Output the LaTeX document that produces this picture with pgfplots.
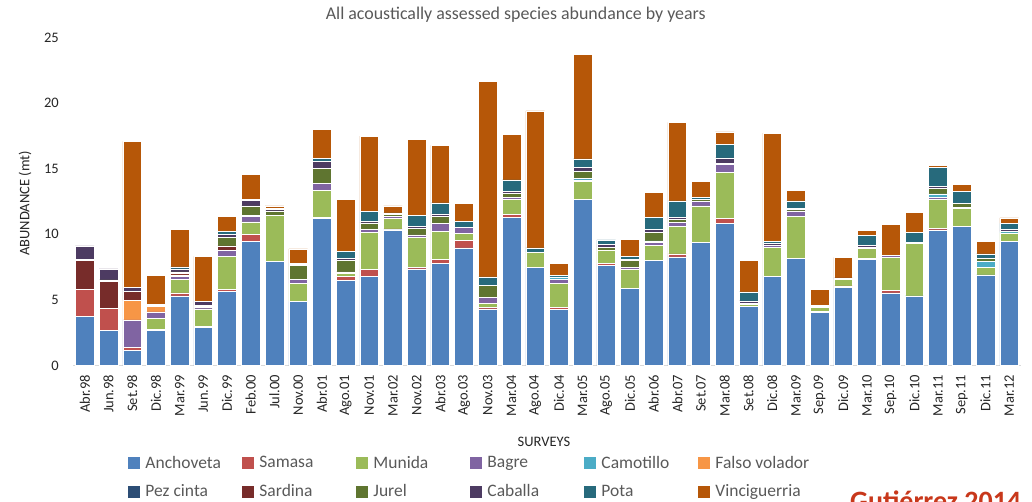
\documentclass[border=0pt]{standalone}
\usepackage{fontspec}
\setmainfont{Carlito}
\usepackage{pgfplots}
\usepackage{pgfplotstable}
\pgfplotsset{compat=1.18}
\definecolor{cAn}{HTML}{4F81BD}
\definecolor{cSa}{HTML}{C0504D}
\definecolor{cMu}{HTML}{9BBB59}
\definecolor{cBa}{HTML}{8064A2}
\definecolor{cCa}{HTML}{4BACC6}
\definecolor{cFv}{HTML}{F79646}
\definecolor{cPc}{HTML}{2C4D75}
\definecolor{cSr}{HTML}{772C2A}
\definecolor{cJu}{HTML}{5F7530}
\definecolor{cCb}{HTML}{4D3B62}
\definecolor{cPo}{HTML}{276A7C}
\definecolor{cVi}{HTML}{B65708}
\definecolor{txtgray}{HTML}{595959}
\definecolor{gutred}{HTML}{C8381B}

\pgfplotstableread{
x  An    Sa   Mu   Ba   Ca   Fv   Pc Sr   Ju   Cb   Po   Vi
0  3.77  2.06 0    0    0    0    0  2.16 0.10 1.02 0    0
1  2.66  1.67 0    0    0    0    0  2.06 0.13 0.84 0    0
2  1.13  0.26 0    2.08 0    1.50 0  0.66 0    0.30 0    11.16
3  2.66  0.10 0.86 0.46 0    0.40 0  0    0.08 0.12 0    2.21
4  5.30  0.23 1.04 0.20 0    0.13 0  0.15 0.08 0.23 0.15 2.87
5  2.91  0.10 1.30 0.13 0    0.07 0  0.08 0    0.30 0    3.43
6  5.63  0.20 2.47 0.45 0    0    0  0.36 0.66 0.23 0.23 1.11
7  9.44  0.53 0.97 0.40 0    0    0  0.10 0.72 0.40 0.11 1.88
8  7.91  0    3.51 0    0    0    0  0    0.36 0.12 0.10 0.16
9  4.89  0    1.35 0.30 0    0    0  0    1.07 0.08 0.10 1.09
10 11.19 0.10 2.06 0.56 0    0    0  0    1.09 0.58 0.23 2.16
11 6.49  0.33 0.20 0.11 0    0    0  0    0.91 0.13 0.53 3.99
12 6.82  0.53 2.80 0.22 0    0    0  0    0.50 0.11 0.76 5.75
13 10.33 0.08 0.83 0.15 0    0    0  0    0.15 0    0.10 0.52
14 7.36  0.12 2.31 0.16 0    0    0  0    0.53 0.10 0.86 5.82
15 7.76  0.33 2.14 0.63 0    0    0  0    0.48 0.21 0.84 4.39
16 8.96  0.56 0.55 0.48 0    0    0  0    0    0    0.41 1.37
17 4.31  0.13 0.27 0.49 0    0    0  0    0.88 0    0.67 14.91
18 11.27 0.25 1.17 0.15 0    0    0  0    0.28 0.15 0.87 3.50
19 7.46  0    1.19 0    0    0    0  0    0    0    0.31 10.44
20 4.26  0.18 1.80 0.33 0.18 0    0  0    0    0    0.10 0.91
21 12.69 0    1.37 0.08 0.15 0    0  0    0.53 0.26 0.66 7.98
22 7.61  0.15 0.99 0    0    0    0  0    0.23 0.23 0.36 0
23 5.86  0    1.44 0.18 0    0    0  0    0.51 0.10 0.23 1.27
24 7.99  0    1.14 0.26 0.10 0    0  0    0.66 0.23 0.89 1.90
25 8.27  0.23 2.08 0.31 0    0    0  0    0.25 0.13 1.27 5.99
26 9.36  0    2.80 0.33 0    0    0  0    0.15 0    0.15 1.27
27 10.86 0.33 3.51 0.63 0    0    0  0    0.10 0.39 1.04 0.94
28 4.48  0    0.16 0    0    0    0  0    0.10 0.18 0.69 2.41
29 6.82  0    2.16 0.15 0    0    0  0    0    0.16 0.15 8.28
30 8.14  0    3.20 0.44 0    0    0  0    0.10 0.10 0.56 0.81
31 4.05  0.10 0.28 0.08 0    0    0  0    0    0.10 0    1.17
32 5.96  0.10 0.51 0    0    0    0  0    0    0.10 0    1.57
33 8.09  0.10 0.71 0    0.08 0    0  0    0    0.15 0.79 0.38
34 5.53  0.17 2.54 0.15 0    0    0  0    0    0    0    2.39
35 5.30  0    3.99 0    0    0    0  0    0.10 0    0.76 1.50
36 10.33 0.15 2.16 0.15 0.30 0    0  0    0.39 0.20 1.42 0.15
37 10.63 0    1.32 0.11 0    0    0  0    0.30 0    0.92 0.55
38 6.90  0    0.56 0    0.45 0    0  0    0.28 0    0.31 0.96
39 9.44  0    0.66 0    0.10 0    0  0    0    0.18 0.45 0.43
}\data

\begin{document}
\begin{tikzpicture}[x=1pt,y=1pt]
\path[use as bounding box] (0,0) rectangle (1032,501);
\begin{axis}[
  at={(73pt,135.5pt)}, anchor=south west,
  scale only axis, width=948pt, height=328pt,
  ybar stacked, bar width=0.79,
  xmin=-0.5, xmax=39.5, ymin=0, ymax=25,
  xtick={0,...,39},
  xticklabels={Abr.98,Jun.98,Set.98,Dic.98,Mar.99,Jun.99,Dic.99,Feb.00,Jul.00,Nov.00,Abr.01,Ago.01,Nov.01,Mar.02,Nov.02,Abr.03,Ago.03,Nov.03,Mar.04,Ago.04,Dic.04,Mar.05,Ago.05,Dic.05,Abr.06,Abr.07,Set.07,Mar.08,Set.08,Dic.08,Mar.09,Sep.09,Dic.09,Mar.10,Sep.10,Dic.10,Mar.11,Sep.11,Dic.11,Mar.12},
  ytick={0,5,10,15,20,25},
  /pgf/number format/assume math mode=true,
  axis x line*=bottom, axis y line*=left,
  x axis line style={draw=black!15, line width=0.8pt},
  y axis line style={draw=none},
  major tick length=0pt,
  tick label style={font=\fontsize{14.5}{16}\selectfont, text=black!85},
  xticklabel style={rotate=90, anchor=east, inner sep=0pt},
  xticklabel shift=9pt,
  yticklabel style={anchor=east, inner sep=0pt},
  yticklabel shift=14pt,
  title={All acoustically assessed species abundance by years},
  title style={at={(axis description cs:0.467,1.050)}, anchor=center, font=\fontsize{17.9}{19}\selectfont, text=txtgray},
  ylabel={ABUNDANCE (mt)},
  ylabel style={at={(axis description cs:-0.0506,0.494)}, anchor=center, font=\fontsize{14.5}{16}\selectfont, text=black!85},
  xlabel={SURVEYS},
  xlabel style={at={(axis description cs:0.4968,-0.232)}, anchor=center, font=\fontsize{14.5}{16}\selectfont, text=black!85},
  legend columns=6,
  legend image code/.code={\fill[#1, draw=none] (0pt,-6pt) rectangle (12pt,6pt);},
  legend style={draw=none, fill=none, inner sep=0pt, outer sep=0pt,
    at={(axis description cs:0.0585,-0.27)}, anchor=north west,
    font=\fontsize{17.5}{19}\selectfont, text=txtgray,
    cells={anchor=west, inner sep=0pt},
    row sep=11pt,
    /tikz/every odd column/.append style={column sep=3pt}},
  every axis plot/.append style={draw=white, line width=0.5pt},
]
\addplot[fill=cAn] table[x=x,y=An]{\data}; \addlegendentry{\makebox[95pt][l]{Anchoveta}}
\addplot[fill=cSa] table[x=x,y=Sa]{\data}; \addlegendentry{\makebox[95pt][l]{Samasa}}
\addplot[fill=cMu] table[x=x,y=Mu]{\data}; \addlegendentry{\makebox[95pt][l]{Munida}}
\addplot[fill=cBa] table[x=x,y=Ba]{\data}; \addlegendentry{\makebox[95pt][l]{Bagre}}
\addplot[fill=cCa] table[x=x,y=Ca]{\data}; \addlegendentry{\makebox[95pt][l]{Camotillo}}
\addplot[fill=cFv] table[x=x,y=Fv]{\data}; \addlegendentry{\makebox[95pt][l]{Falso volador}}
\addplot[fill=cPc] table[x=x,y=Pc]{\data}; \addlegendentry{\makebox[95pt][l]{Pez cinta}}
\addplot[fill=cSr] table[x=x,y=Sr]{\data}; \addlegendentry{\makebox[95pt][l]{Sardina}}
\addplot[fill=cJu] table[x=x,y=Ju]{\data}; \addlegendentry{\makebox[95pt][l]{Jurel}}
\addplot[fill=cCb] table[x=x,y=Cb]{\data}; \addlegendentry{\makebox[95pt][l]{Caballa}}
\addplot[fill=cPo] table[x=x,y=Po]{\data}; \addlegendentry{\makebox[95pt][l]{Pota}}
\addplot[fill=cVi] table[x=x,y=Vi]{\data}; \addlegendentry{\makebox[95pt][l]{Vinciguerria}}
\end{axis}
\node[anchor=base west, inner sep=0pt, font=\bfseries\fontsize{28}{30}\selectfont, text=gutred] at (850,-9) {Gutiérrez 2014};
\end{tikzpicture}
\end{document}
